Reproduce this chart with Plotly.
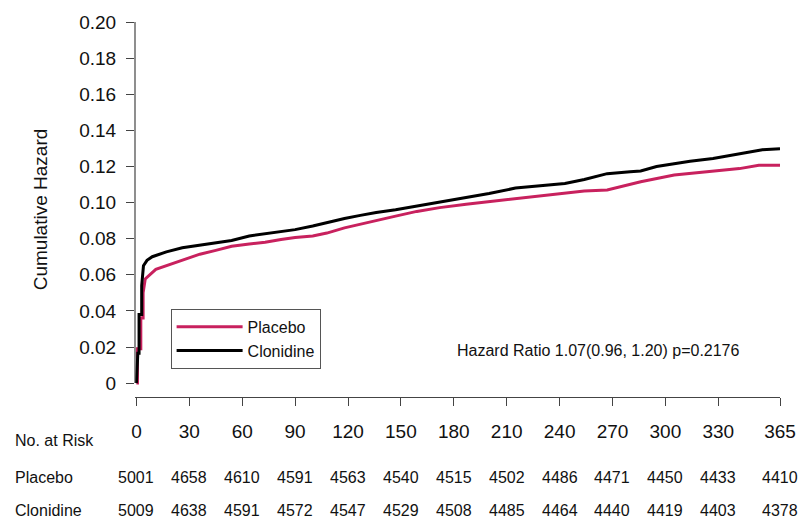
import plotly.graph_objects as go

# ---- data ----
placebo_days = [0, 0.6, 0.6, 2.5, 2.5, 3.8, 3.8, 5, 11, 22, 36, 45, 54, 64, 73, 82, 90, 100, 108,
                118, 127, 136, 147, 159, 172, 187, 200, 215, 229, 243, 254, 267, 276, 286,
                305, 323, 342, 353, 365]
placebo_haz = [0, 0, 0.019, 0.019, 0.036, 0.036, 0.050, 0.0577, 0.063, 0.0667, 0.0714, 0.0735,
               0.0758, 0.0770, 0.0780, 0.0795, 0.0806, 0.0815, 0.0831, 0.0860, 0.0879, 0.0899,
               0.0925, 0.0951, 0.0972, 0.0991, 0.1005, 0.1024, 0.1038, 0.1051, 0.1064, 0.1070,
               0.1090, 0.1115, 0.1152, 0.1170, 0.1188, 0.1207, 0.1207]

clonidine_days = [0, 0.8, 0.8, 1.5, 1.5, 3.0, 3.0, 4.0, 6, 9, 17, 26, 36, 45, 54, 64, 71, 80, 90,
                  100, 108, 118, 127, 136, 147, 159, 172, 187, 200, 215, 229, 243, 254, 267,
                  280, 286, 295, 305, 314, 327, 342, 355, 365]
clonidine_haz = [0, 0.0165, 0.0165, 0.0165, 0.038, 0.038, 0.054, 0.065, 0.068, 0.070, 0.0727,
                 0.075, 0.0764, 0.078, 0.0790, 0.0815, 0.0824, 0.0835, 0.0850, 0.0870, 0.0890,
                 0.0912, 0.0929, 0.0945, 0.0960, 0.0980, 0.1005, 0.1030, 0.1050, 0.1080, 0.1095,
                 0.1106, 0.1128, 0.1160, 0.1170, 0.1175, 0.1200, 0.1215, 0.1229, 0.1244, 0.1271,
                 0.1293, 0.1298]

x_ticks = [0, 30, 60, 90, 120, 150, 180, 210, 240, 270, 300, 330, 365]
y_ticks = [0, 0.02, 0.04, 0.06, 0.08, 0.10, 0.12, 0.14, 0.16, 0.18, 0.20]
y_tick_text = ["0", "0.02", "0.04", "0.06", "0.08", "0.10", "0.12", "0.14", "0.16", "0.18", "0.20"]

risk_placebo = [5001, 4658, 4610, 4591, 4563, 4540, 4515, 4502, 4486, 4471, 4450, 4433, 4410]
risk_clonidine = [5009, 4638, 4591, 4572, 4547, 4529, 4508, 4485, 4464, 4440, 4419, 4403, 4378]

hr_text = "Hazard Ratio 1.07(0.96, 1.20) p=0.2176"

PLACEBO_COLOR = "#C8215E"
CLONIDINE_COLOR = "#000000"
FONT = "Liberation Sans, Arial, sans-serif"
AXIS_COLOR = "#444444"

fig = go.Figure()
fig.add_trace(go.Scatter(x=placebo_days, y=placebo_haz, mode="lines", name="Placebo",
                         line=dict(color=PLACEBO_COLOR, width=3)))
fig.add_trace(go.Scatter(x=clonidine_days, y=clonidine_haz, mode="lines", name="Clonidine",
                         line=dict(color=CLONIDINE_COLOR, width=3)))

# risk table
row_y = {"No. at Risk": -0.1156, "Placebo": -0.2135, "Clonidine": -0.3034}
for label, yy in row_y.items():
    fig.add_annotation(x=-0.1887, xref="paper", y=yy, yref="paper", text=label,
                       showarrow=False, xanchor="left", yanchor="middle",
                       font=dict(family=FONT, size=16, color="#111111"))
for d, p, c in zip(x_ticks, risk_placebo, risk_clonidine):
    fig.add_annotation(x=d, xref="x", y=row_y["Placebo"], yref="paper", text=str(p),
                       showarrow=False, xanchor="center", yanchor="middle",
                       font=dict(family=FONT, size=16, color="#111111"))
    fig.add_annotation(x=d, xref="x", y=row_y["Clonidine"], yref="paper", text=str(c),
                       showarrow=False, xanchor="center", yanchor="middle",
                       font=dict(family=FONT, size=16, color="#111111"))

fig.add_annotation(x=0.4954, xref="paper", y=0.0181, yref="y", text=hr_text,
                   showarrow=False, xanchor="left", yanchor="middle",
                   font=dict(family=FONT, size=16, color="#111111"))

# y axis line spanning only 0..0.20
fig.add_shape(type="line", xref="paper", yref="y", x0=0, x1=0, y0=0, y1=0.2,
              line=dict(color=AXIS_COLOR, width=1.2))

fig.update_layout(
    width=808, height=523,
    margin=dict(l=135, r=21, t=19, b=126),
    paper_bgcolor="white", plot_bgcolor="white",
    font=dict(family=FONT, color="#111111"),
    showlegend=True,
    legend=dict(x=0.0552, y=0.2354, xanchor="left", yanchor="top",
                bordercolor="#555555", borderwidth=1, bgcolor="white",
                font=dict(family=FONT, size=16, color="#111111"),
                itemwidth=66, entrywidth=168, tracegroupgap=0),
    xaxis=dict(range=[-0.8, 365], tickvals=x_ticks, ticktext=[str(t) for t in x_ticks],
               showline=True, linecolor=AXIS_COLOR, linewidth=1.2,
               ticks="outside", ticklen=8, tickcolor=AXIS_COLOR, tickwidth=1.2,
               showgrid=False, zeroline=False, ticklabelstandoff=9,
               tickfont=dict(family=FONT, size=19, color="#111111")),
    yaxis=dict(range=[-0.00769, 0.2], tickvals=y_ticks, ticktext=y_tick_text,
               showline=False, ticks="outside", ticklen=8, tickcolor=AXIS_COLOR, tickwidth=1.2,
               showgrid=False, zeroline=False, ticklabelstandoff=6,
               tickfont=dict(family=FONT, size=19, color="#111111"),
               title=dict(text="Cumulative Hazard", standoff=26,
                          font=dict(family=FONT, size=19, color="#111111"))),
)

fig.write_html("out.html")
